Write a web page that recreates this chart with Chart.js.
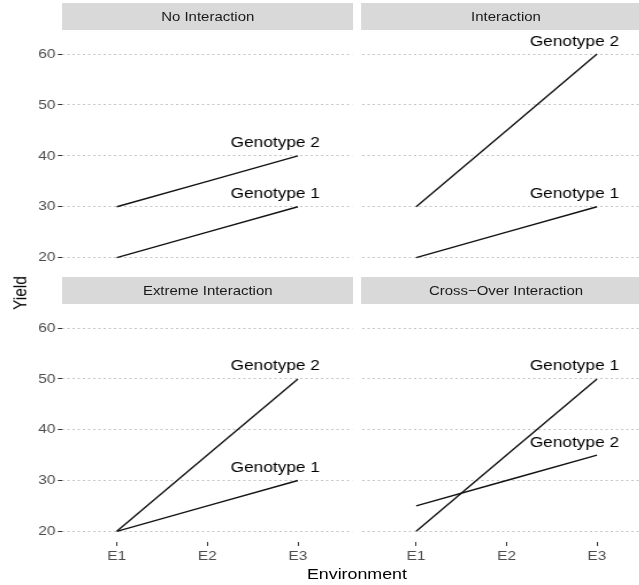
<!DOCTYPE html>
<html>
<head>
<meta charset="utf-8">
<title>Genotype x Environment</title>
<script src="https://cdn.jsdelivr.net/npm/chart.js@4/dist/chart.umd.min.js"></script>
<style>
  html, body { margin: 0; padding: 0; background: #fff; width: 639px; height: 585px; overflow: hidden; }
  #page {
    position: absolute; left: 0; top: 0; width: 570px; height: 585px;
    transform: scaleX(1.15); transform-origin: 0 0;
    font-family: "Liberation Sans", Arial, sans-serif;
  }
  .strip {
    position: absolute; height: 27px; line-height: 27px;
    background: #d9d9d9; color: #1a1a1a; font-size: 13px; text-align: center;
  }
  .panel { position: absolute; }
  .title { position: absolute; color: #000; font-size: 15.5px; white-space: nowrap; }
</style>
</head>
<body>
<div id="page">
  <div class="strip" style="left:54.3px; top:3px; width:252.7px;">No Interaction</div>
  <div class="strip" style="left:313.5px; top:3px; width:253px;">Interaction</div>
  <div class="strip" style="left:54.3px; top:277px; width:252.7px;">Extreme Interaction</div>
  <div class="strip" style="left:313.5px; top:277px; width:253px;">Cross−Over Interaction</div>

  <div class="panel" style="left:0; top:30px; width:307px; height:239px;"><canvas id="p1"></canvas></div>
  <div class="panel" style="left:313.5px; top:30px; width:253px; height:239px;"><canvas id="p2"></canvas></div>
  <div class="panel" style="left:0; top:304px; width:307px; height:281px;"><canvas id="p3"></canvas></div>
  <div class="panel" style="left:313.5px; top:304px; width:253px; height:281px;"><canvas id="p4"></canvas></div>

  <div class="title" style="left:17.8px; top:293px; transform: translate(-50%, -50%) rotate(-90deg);">Yield</div>
  <div class="title" style="left:310.4px; top:574px; transform: translate(-50%, -50%);">Environment</div>
</div>

<script>
const environments = ['E1', 'E2', 'E3'];
const yTicks = [20, 30, 40, 50, 60];
const genotypes = ['Genotype 1', 'Genotype 2'];

const noInteraction1 = [20, 25, 30];
const noInteraction2 = [30, 35, 40];
const interaction1 = [20, 25, 30];
const interaction2 = [30, 45, 60];
const extreme1 = [20, 25, 30];
const extreme2 = [20, 35, 50];
const crossOver1 = [20, 35, 50];
const crossOver2 = [25, 30, 35];

// text labels sit just left of and above the last point of each line
const labelShiftX = 0.25;
const labelShiftY = 2.5;

const lineLabels = {
  id: 'lineLabels',
  afterDatasetsDraw(chart) {
    const ctx = chart.ctx;
    const xs = chart.scales.x;
    const ys = chart.scales.y;
    ctx.save();
    ctx.font = '15px "Liberation Sans", Arial, sans-serif';
    ctx.fillStyle = '#000';
    ctx.textAlign = 'center';
    ctx.textBaseline = 'middle';
    chart.data.datasets.forEach(ds => {
      const last = ds.data[ds.data.length - 1];
      ctx.fillText(ds.label, xs.getPixelForValue(last.x - labelShiftX), ys.getPixelForValue(last.y + labelShiftY));
    });
    ctx.restore();
  }
};

function toPoints(values) {
  return values.map((v, i) => ({ x: i + 1, y: v }));
}

function makePanel(id, g1, g2, showY, showX) {
  const ctx = document.getElementById(id).getContext('2d');
  return new Chart(ctx, {
    type: 'line',
    data: {
      datasets: [g1, g2].map((vals, i) => ({
        label: genotypes[i],
        data: toPoints(vals),
        borderColor: '#111',
        borderWidth: 1.4,
        pointRadius: 0,
        fill: false,
        tension: 0,
      })),
    },
    options: {
      responsive: true,
      maintainAspectRatio: false,
      animation: false,
      events: [],
      layout: { padding: 0 },
      plugins: { legend: { display: false }, tooltip: { enabled: false } },
      scales: {
        x: {
          type: 'linear',
          min: 0.4,
          max: 3.6,
          display: showX,
          afterBuildTicks: s => { s.ticks = environments.map((_, i) => ({ value: i + 1 })); },
          afterFit: s => {
            s.height = showX ? 43 : 0;
            s.paddingLeft = 0;
            s.paddingRight = 0;
          },
          ticks: {
            callback: v => environments[v - 1],
            color: '#4d4d4d',
            font: { size: 13.5, family: '"Liberation Sans", Arial, sans-serif' },
            padding: 2,
            maxRotation: 0,
            autoSkip: false,
          },
          grid: { drawOnChartArea: false, drawTicks: true, tickLength: 4, tickColor: '#333', tickWidth: 1 },
          border: { display: false },
        },
        y: {
          type: 'linear',
          min: 17.9,
          max: 64.6,
          afterBuildTicks: s => { s.ticks = yTicks.map(v => ({ value: v })); },
          afterFit: s => {
            s.width = showY ? 54.3 : 0;
            s.paddingTop = 0;
            s.paddingBottom = 0;
          },
          ticks: {
            display: showY,
            color: '#4d4d4d',
            font: { size: 13.5, family: '"Liberation Sans", Arial, sans-serif' },
            padding: 2,
          },
          grid: { color: '#c4c4c4', lineWidth: 1, drawTicks: showY, tickLength: 4, tickColor: '#333', tickWidth: 1 },
          border: { display: false, dash: [2, 2.5] },
        },
      },
    },
    plugins: [lineLabels],
  });
}

makePanel('p1', noInteraction1, noInteraction2, true, false);
makePanel('p2', interaction1, interaction2, false, false);
makePanel('p3', extreme1, extreme2, true, true);
makePanel('p4', crossOver1, crossOver2, false, true);
</script>
</body>
</html>
